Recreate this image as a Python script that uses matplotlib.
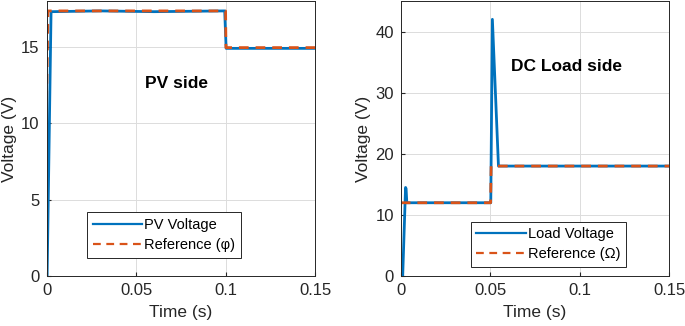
import matplotlib.pyplot as plt

# PV side data
pv_t = [0, 0.0003, 0.0025, 0.03, 0.06, 0.0995, 0.1003, 0.15]
pv_v = [0, 0, 17.3, 17.35, 17.3, 17.35, 14.9, 14.9]
pv_ref_t = [0, 0.0008, 0.1, 0.1002, 0.15]
pv_ref_v = [11.5, 17.35, 17.35, 14.95, 14.95]

# DC load side data
ld_t = [0, 0.0011, 0.0027, 0.0030, 0.0034, 0.0500, 0.0503, 0.0512, 0.0546, 0.15]
ld_v = [0, 0, 14.5, 14.3, 12, 12, 12, 42, 18, 18]
ld_ref_t = [0, 0.0502, 0.0505, 0.15]
ld_ref_v = [12, 12, 18, 18]

blue = '#0072BD'
orange = '#D95319'

plt.rcParams['font.family'] = ['Liberation Sans', 'DejaVu Sans']
plt.rcParams['font.size'] = 10

fig = plt.figure(figsize=(6.85, 3.26), dpi=100)
ax1 = fig.add_axes([0.068, 0.153, 0.392, 0.844])
ax2 = fig.add_axes([0.585, 0.153, 0.392, 0.844])


def style(ax, ylim, yticks):
    ax.set_xlim(0, 0.15)
    ax.set_ylim(*ylim)
    ax.set_xticks([0, 0.05, 0.1, 0.15])
    ax.set_xticklabels(['0', '0.05', '0.1', '0.15'])
    ax.set_yticks(yticks)
    ax.grid(True, color='#dcdcdc', lw=0.7)
    ax.set_axisbelow(True)
    ax.tick_params(direction='in', length=3, colors='#262626', labelsize=12, pad=5)
    for s in ax.spines.values():
        s.set_color('#262626')
        s.set_linewidth(0.7)
    ax.set_xlabel('Time (s)', fontsize=12.5, color='#262626', labelpad=5)
    ax.set_ylabel('Voltage (V)', fontsize=12.5, color='#262626', labelpad=3)


def add_legend(ax, anchor):
    leg = ax.legend(loc='lower left', bbox_to_anchor=anchor, fontsize=10.5, fancybox=False,
                    edgecolor='#262626', framealpha=1, handlelength=3.4, borderpad=0.4,
                    labelspacing=0.4, handletextpad=0.15, borderaxespad=0)
    leg.get_frame().set_linewidth(0.7)
    for h in leg.get_lines():
        h.set_linewidth(1.6)


ax1.plot(pv_t, pv_v, color=blue, lw=2, label='PV Voltage')
ax1.plot(pv_ref_t, pv_ref_v, color=orange, lw=2, ls=(0, (3.5, 2.5)), label='Reference (\u03c6)')
style(ax1, (0, 18), [0, 5, 10, 15])
ax1.text(0.0723, 12.6, 'PV side', fontsize=12.5, fontweight='bold', ha='center', va='center')
add_legend(ax1, (0.15, 0.066))

ax2.plot(ld_t, ld_v, color=blue, lw=2, label='Load Voltage')
ax2.plot(ld_ref_t, ld_ref_v, color=orange, lw=2, ls=(0, (3.5, 2.5)), label='Reference (\u03a9)')
style(ax2, (0, 45), [0, 10, 20, 30, 40])
ax2.text(0.0928, 34.3, 'DC Load side', fontsize=12.5, fontweight='bold', ha='center', va='center')
add_legend(ax2, (0.26, 0.033))

fig.savefig('out.png', dpi=100)
